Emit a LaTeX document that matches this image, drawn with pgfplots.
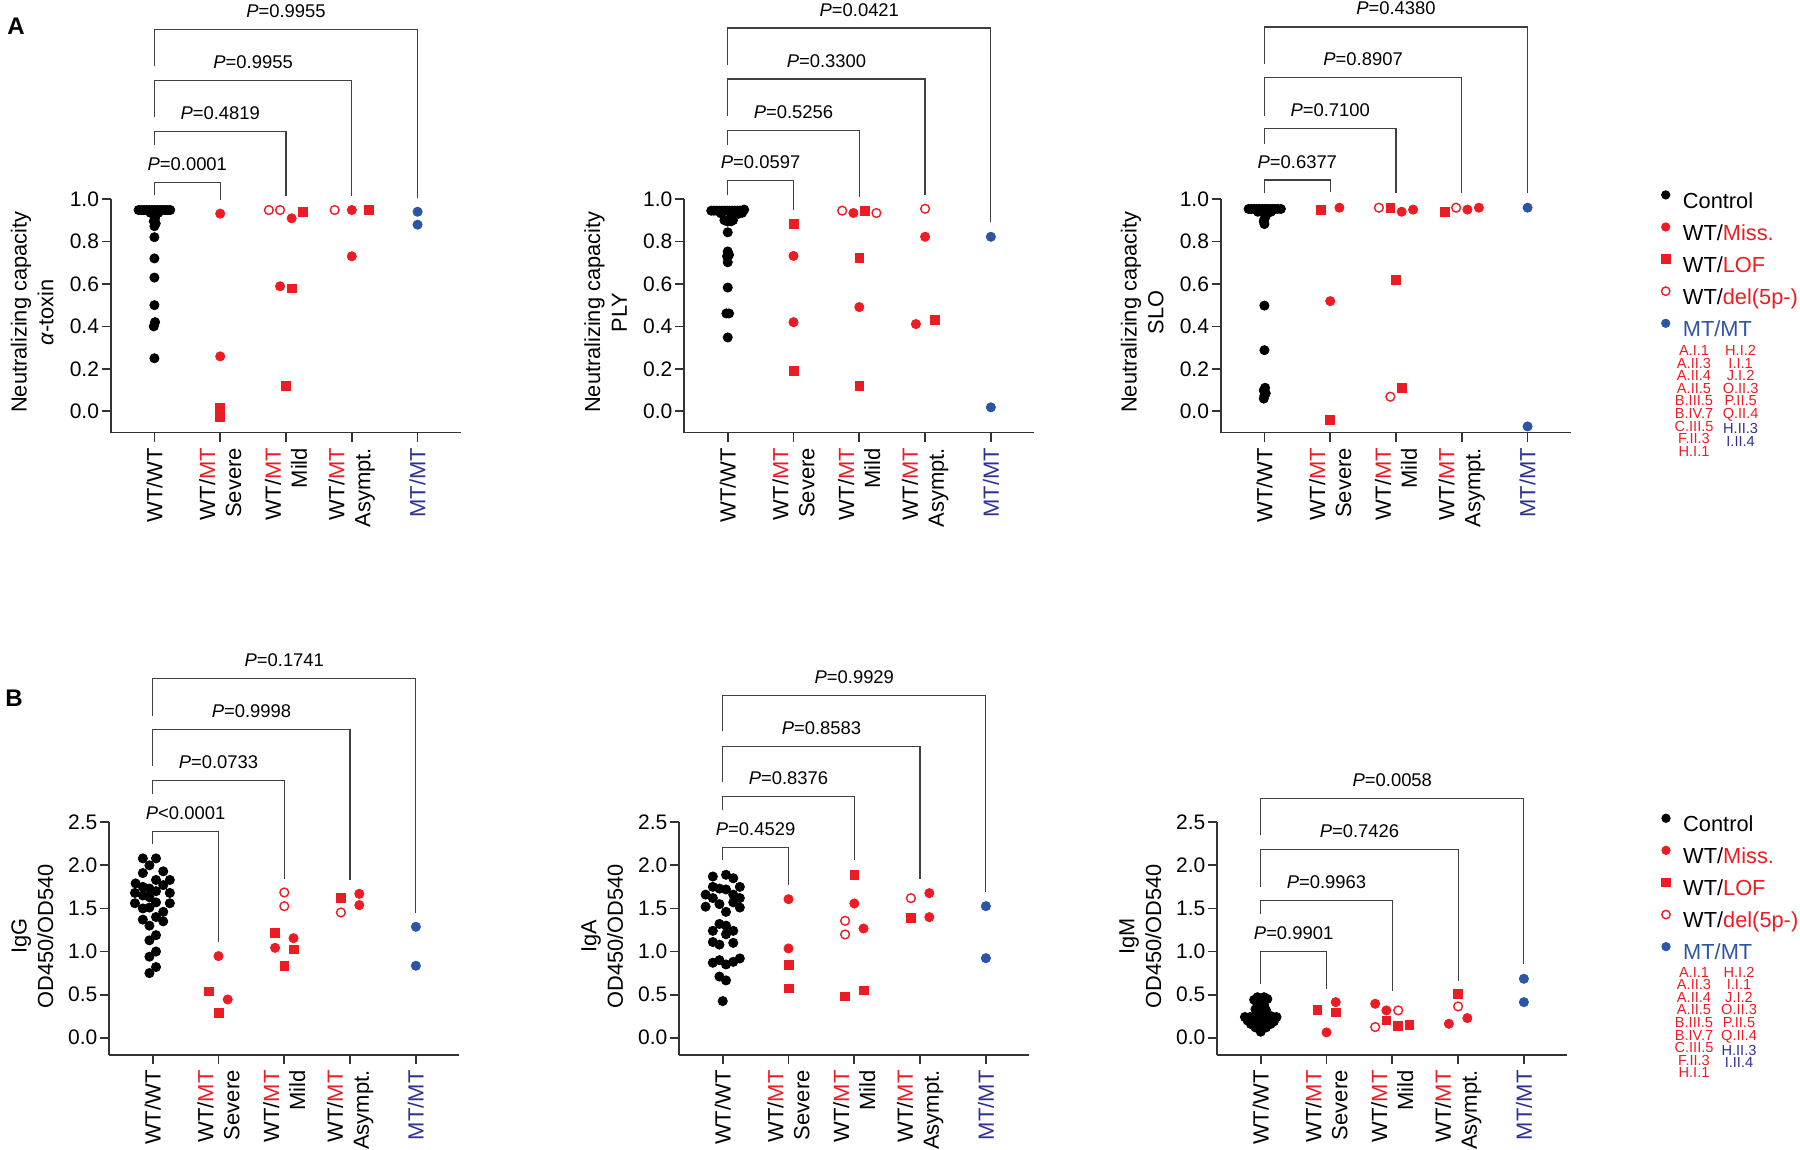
\documentclass[border=0pt]{standalone}
\usepackage{pgfplots}
\pgfplotsset{compat=1.18}
\usepackage{fontspec}
\setmainfont{Liberation Sans}
\definecolor{gred}{RGB}{237,28,36}
\definecolor{gblue}{RGB}{45,85,165}
\definecolor{gnavy}{RGB}{46,49,146}
\tikzset{brkst/.style={line width=0.6pt, black!75},
  plab/.style={font=\fontsize{9.2}{11}\selectfont, inner sep=0pt}}
\newcommand{\brk}[6]{%
  \draw[brkst] (axis cs:0,#3) -- (axis cs:0,#2) -- (axis cs:#1,#2) -- (axis cs:#1,#4);
  \node[plab, anchor=base, yshift=6pt] at (axis cs:#5,#2) {#6};}
\pgfplotsset{
  lg/.style={legend image code/.code={\draw[##1, mark size=2.1pt] plot coordinates {(0pt,3.9pt)};}},
  ctrl/.style={only marks, mark=*, black, mark size=2.3pt, lg},
  miss/.style={only marks, mark=*, gred, mark size=2.3pt, lg},
  lof/.style={only marks, mark=square*, gred, mark size=2.2pt, lg},
  del/.style={only marks, mark=o, gred, mark size=2.2pt, mark options={line width=0.7pt, fill=white}, lg},
  mt/.style={only marks, mark=*, gblue, mark size=2.3pt, lg},
  panel/.style={scale only axis, width=175pt, clip=false, xmin=-0.66, xmax=4.66,
    axis x line*=bottom, axis y line*=left,
    axis line style={-, line width=0.9pt, black!80},
    tick align=outside, major tick length=4.5pt, tick style={line width=0.9pt, black!80},
    xtick={0,1,2,3,4},
    xticklabels={{WT/WT},{WT/\textcolor{gred}{MT}\\Severe},{WT/\textcolor{gred}{MT}\\Mild},{WT/\textcolor{gred}{MT}\\Asympt.},{\textcolor{gnavy}{MT/MT}}},
    xticklabel style={rotate=90, anchor=east, align=right, font=\fontsize{11}{13}\selectfont, inner sep=3pt},
    yticklabel style={font=\fontsize{10.5}{12}\selectfont, inner sep=1.3pt},
    every axis y label/.style={at={(axis description cs:-0.225,0.515)}, anchor=center, rotate=90, align=center, font=\fontsize{10.9}{13.3}\selectfont},
    legend cell align=left},
  panelA/.style={panel, height=116.8pt, ymin=-0.1, ymax=1.0, ytick={0,0.2,0.4,0.6,0.8,1.0}, yticklabels={0.0,0.2,0.4,0.6,0.8,1.0}},
  panelB/.style={panel, height=116.4pt, ymin=-0.2, ymax=2.5, ytick={0,0.5,1,1.5,2,2.5}, yticklabels={0.0,0.5,1.0,1.5,2.0,2.5},
    every axis y label/.append style={at={(axis description cs:-0.22,0.51)}}},
  legst/.style={legend style={draw=none, fill=none, inner sep=0pt, outer sep=0pt, column sep=6.5pt, row sep=4.8pt,
    font=\fontsize{10.9}{13}\selectfont, nodes={inner sep=0pt, text height=8pt, text depth=2.5pt}}},
}
\begin{document}
\begin{tikzpicture}
\useasboundingbox (0,0) rectangle (900pt,575pt);
% ---------------- A1 ----------------
\begin{axis}[panelA, at={(55.5pt,358.7pt)}, anchor=south west, ylabel={Neutralizing capacity\\\textit{α}-toxin}]
\addplot[ctrl] coordinates {(-0.24,0.948)(-0.20,0.948)(-0.16,0.948)(-0.12,0.948)(-0.08,0.948)(-0.04,0.948)(0,0.948)(0.04,0.948)(0.08,0.948)(0.12,0.948)(0.16,0.948)(0.20,0.948)(0.24,0.948)(-0.06,0.935)(0.06,0.935)(0,0.925)(0.01,0.91)(-0.01,0.895)(0.02,0.885)(0,0.872)(0,0.82)(0,0.72)(0,0.63)(0,0.50)(0.01,0.42)(-0.01,0.40)(0,0.25)};
\addplot[miss] coordinates {(1,0.931)(1,0.259)(2.086,0.909)(1.91,0.589)(3,0.948)(3,0.73)};
\addplot[lof] coordinates {(1,0.019)(1,-0.028)(2.26,0.94)(2.086,0.579)(2,0.12)(3.26,0.948)};
\addplot[del] coordinates {(1.74,0.948)(1.91,0.948)(2.74,0.948)};
\addplot[mt] coordinates {(4,0.94)(4,0.879)};
\brk{1}{1.079}{1.02}{0.993}{0.5}{\textit{P}=0.0001}
\brk{2}{1.318}{1.255}{1.012}{1}{\textit{P}=0.4819}
\brk{3}{1.558}{1.386}{1.015}{1.5}{\textit{P}=0.9955}
\brk{4}{1.797}{1.624}{1.005}{2}{\textit{P}=0.9955}
\end{axis}
% ---------------- A2 ----------------
\begin{axis}[panelA, at={(342.15pt,358.7pt)}, anchor=south west, ylabel={Neutralizing capacity\\PLY}]
\addplot[ctrl] coordinates {(-0.25,0.945)(-0.21,0.945)(-0.17,0.945)(-0.13,0.945)(-0.09,0.945)(-0.05,0.945)(-0.01,0.945)(0.03,0.945)(0.07,0.945)(0.11,0.945)(0.15,0.945)(0.19,0.945)(0.23,0.945)(0.25,0.95)(-0.1,0.932)(0.05,0.93)(0.16,0.93)(0.22,0.935)(-0.05,0.9)(0,0.894)(0.05,0.895)(0.08,0.9)(0,0.843)(0,0.753)(0.02,0.737)(-0.01,0.73)(0,0.702)(0,0.583)(-0.02,0.461)(0.02,0.461)(0,0.348)};
\addplot[miss] coordinates {(1,0.732)(1,0.42)(1.91,0.934)(2,0.491)(3,0.822)(2.86,0.411)};
\addplot[lof] coordinates {(1,0.883)(1,0.19)(2.086,0.945)(2,0.723)(2,0.118)(3.15,0.43)};
\addplot[del] coordinates {(1.74,0.945)(2.26,0.934)(3,0.954)};
\addplot[mt] coordinates {(4,0.822)(4,0.019)};
\brk{1}{1.086}{1.02}{0.95}{0.5}{\textit{P}=0.0597}
\brk{2}{1.323}{1.256}{1.01}{1}{\textit{P}=0.5256}
\brk{3}{1.565}{1.39}{1.02}{1.5}{\textit{P}=0.3300}
\brk{4}{1.805}{1.63}{0.89}{2}{\textit{P}=0.0421}
\end{axis}
% ---------------- A3 ----------------
\begin{axis}[panelA, legst, at={(610.5pt,358.7pt)}, anchor=south west, ylabel={Neutralizing capacity\\SLO},
  legend style={at={(axis description cs:1.2586,1.0355)}, anchor=north west}]
\addplot[ctrl] coordinates {(-0.24,0.953)(-0.20,0.953)(-0.16,0.953)(-0.12,0.953)(-0.08,0.953)(-0.04,0.953)(0,0.953)(0.04,0.953)(0.08,0.953)(0.12,0.953)(0.16,0.953)(0.20,0.953)(0.25,0.953)(-0.1,0.94)(0.1,0.94)(0,0.937)(0.02,0.92)(0,0.906)(-0.01,0.895)(0,0.882)(0,0.498)(0,0.288)(0.01,0.111)(-0.01,0.099)(0.02,0.085)(0,0.075)(-0.01,0.06)};
\addlegendentry{Control}
\addplot[miss] coordinates {(1.14,0.959)(1,0.519)(2.086,0.94)(2.26,0.95)(3.086,0.95)(3.26,0.959)};
\addlegendentry{WT/\textcolor{gred}{Miss.}}
\addplot[lof] coordinates {(0.86,0.948)(1,-0.042)(1.914,0.959)(2,0.619)(2.086,0.11)(2.74,0.94)};
\addlegendentry{WT/\textcolor{gred}{LOF}}
\addplot[del] coordinates {(1.74,0.959)(1.914,0.069)(2.914,0.959)};
\addlegendentry{WT/\textcolor{gred}{del(5p-)}}
\addplot[mt] coordinates {(4,0.959)(4,-0.071)};
\addlegendentry{\textcolor{gblue}{MT/MT}}
\brk{1}{1.089}{1.026}{1.031}{0.5}{\textit{P}=0.6377}
\brk{2}{1.332}{1.259}{1.026}{1}{\textit{P}=0.7100}
\brk{3}{1.572}{1.392}{1.026}{1.5}{\textit{P}=0.8907}
\brk{4}{1.81}{1.635}{1.026}{2}{\textit{P}=0.4380}
\end{axis}
% ---------------- B1 ----------------
\begin{axis}[panelB, at={(54.65pt,47.5pt)}, anchor=south west, ylabel={IgG\\OD450/OD540}]
\addplot[ctrl] coordinates {(-0.15,2.08)(0.05,2.08)(-0.05,2.00)(-0.15,1.91)(0.16,1.93)(-0.26,1.79)(0.05,1.83)(0.26,1.83)(-0.15,1.75)(-0.05,1.73)(0.16,1.77)(-0.27,1.68)(0.05,1.70)(0.26,1.68)(-0.15,1.65)(-0.05,1.63)(-0.27,1.56)(0.05,1.57)(0.26,1.56)(-0.15,1.50)(-0.05,1.51)(0.16,1.46)(-0.15,1.37)(0.05,1.40)(0.16,1.35)(-0.05,1.30)(0.05,1.19)(-0.05,1.13)(0.05,1.00)(-0.05,0.94)(0.05,0.82)(-0.05,0.75)};
\addplot[miss] coordinates {(1,0.947)(1.14,0.444)(2.14,1.155)(1.86,1.043)(3.14,1.669)(3.14,1.538)};
\addplot[lof] coordinates {(0.86,0.537)(1,0.286)(1.86,1.217)(2.14,1.024)(2,0.835)(2.86,1.619)};
\addplot[del] coordinates {(2,1.685)(2,1.526)(2.86,1.453)};
\addplot[mt] coordinates {(4,1.287)(4,0.835)};
\brk{1}{2.396}{2.242}{1.109}{0.5}{\textit{P}<0.0001}
\brk{2}{2.984}{2.829}{1.844}{1}{\textit{P}=0.0733}
\brk{3}{3.575}{3.157}{1.824}{1.5}{\textit{P}=0.9998}
\brk{4}{4.163}{3.726}{1.445}{2}{\textit{P}=0.1741}
\end{axis}
% ---------------- B2 ----------------
\begin{axis}[panelB, at={(339.65pt,47.5pt)}, anchor=south west, ylabel={IgA\\OD450/OD540}]
\addplot[ctrl] coordinates {(-0.15,1.87)(0.05,1.89)(0.16,1.85)(-0.15,1.75)(-0.05,1.73)(0.05,1.72)(0.26,1.75)(-0.26,1.66)(-0.15,1.62)(0.26,1.62)(0.16,1.66)(-0.26,1.52)(-0.05,1.55)(0.05,1.46)(0.26,1.51)(0.16,1.57)(-0.05,1.32)(0.05,1.30)(-0.15,1.24)(0.16,1.24)(0.05,1.20)(-0.15,1.11)(-0.05,1.08)(0.16,1.10)(-0.15,0.87)(-0.05,0.90)(0.05,0.85)(0.16,0.88)(0.26,0.92)(-0.05,0.71)(0.05,0.665)(0,0.425)};
\addplot[miss] coordinates {(1,1.607)(1,1.036)(2,1.557)(2.14,1.267)(3.14,1.677)(3.14,1.399)};
\addplot[lof] coordinates {(1,0.846)(1,0.572)(2,1.889)(2.14,0.549)(1.86,0.479)(2.86,1.387)};
\addplot[del] coordinates {(1.86,1.356)(1.86,1.198)(2.86,1.619)};
\addplot[mt] coordinates {(4,1.526)(4,0.923)};
\brk{1}{2.203}{2.056}{1.766}{0.5}{\textit{P}=0.4529}
\brk{2}{2.798}{2.636}{2.056}{1}{\textit{P}=0.8376}
\brk{3}{3.378}{2.964}{1.844}{1.5}{\textit{P}=0.8583}
\brk{4}{3.969}{3.556}{1.688}{2}{\textit{P}=0.9929}
\end{axis}
% ---------------- B3 ----------------
\begin{axis}[panelB, legst, at={(608.65pt,47.5pt)}, anchor=south west, ylabel={IgM\\OD450/OD540},
  legend style={at={(axis description cs:1.27,1.035)}, anchor=north west}]
\addplot[ctrl] coordinates {(-0.05,0.47)(0.05,0.47)(0.1,0.45)(-0.1,0.44)(0,0.43)(-0.05,0.39)(0.05,0.38)(0,0.35)(-0.08,0.33)(0.08,0.32)(-0.03,0.29)(0.04,0.28)(-0.24,0.24)(-0.16,0.24)(-0.08,0.25)(0,0.24)(0.08,0.24)(0.16,0.25)(0.24,0.24)(-0.2,0.2)(-0.12,0.19)(0.12,0.2)(0.2,0.19)(-0.15,0.16)(-0.05,0.17)(0.05,0.16)(0.15,0.16)(-0.08,0.12)(0.08,0.12)(0,0.07)};
\addlegendentry{Control}
\addplot[miss] coordinates {(1.14,0.413)(1,0.062)(1.74,0.394)(1.91,0.317)(2.86,0.162)(3.14,0.228)};
\addlegendentry{WT/\textcolor{gred}{Miss.}}
\addplot[lof] coordinates {(0.86,0.325)(1.14,0.294)(1.91,0.201)(2.09,0.135)(2.26,0.151)(3,0.51)};
\addlegendentry{WT/\textcolor{gred}{LOF}}
\addplot[del] coordinates {(2.09,0.317)(1.74,0.124)(3,0.363)};
\addlegendentry{WT/\textcolor{gred}{del(5p-)}}
\addplot[mt] coordinates {(4,0.684)(4,0.413)};
\addlegendentry{\textcolor{gblue}{MT/MT}}
\brk{1}{1.004}{0.626}{0.566}{0.5}{\textit{P}=0.9901}
\brk{2}{1.592}{1.430}{0.546}{1}{\textit{P}=0.9963}
\brk{3}{2.183}{1.746}{0.662}{1.5}{\textit{P}=0.7426}
\brk{4}{2.771}{2.346}{0.85}{2}{\textit{P}=0.0058}
\end{axis}
% ---------------- IDs and panel letters ----------------
\tikzset{idst/.style={anchor=north, inner sep=0pt, align=center, font=\fontsize{7.3}{6.3}\selectfont, text=gred}}
\node[idst] at (847pt,402.5pt) {A.I.1\\A.II.3\\A.II.4\\A.II.5\\B.III.5\\B.IV.7\\C.III.5\\F.II.3\\H.I.1};
\node[idst] at (870.3pt,402.5pt) {H.I.2\\I.I.1\\J.I.2\\O.II.3\\P.II.5\\Q.II.4\\\textcolor{gnavy}{H.II.3}\\\textcolor{gnavy}{I.II.4}};
\node[idst] at (847pt,91.7pt) {A.I.1\\A.II.3\\A.II.4\\A.II.5\\B.III.5\\B.IV.7\\C.III.5\\F.II.3\\H.I.1};
\node[idst] at (869.5pt,91.7pt) {H.I.2\\I.I.1\\J.I.2\\O.II.3\\P.II.5\\Q.II.4\\\textcolor{gnavy}{H.II.3}\\\textcolor{gnavy}{I.II.4}};
\node[font=\bfseries\fontsize{12}{12}\selectfont, anchor=center] at (8pt,562pt) {A};
\node[font=\bfseries\fontsize{12}{12}\selectfont, anchor=center] at (7pt,226pt) {B};
\end{tikzpicture}
\end{document}
